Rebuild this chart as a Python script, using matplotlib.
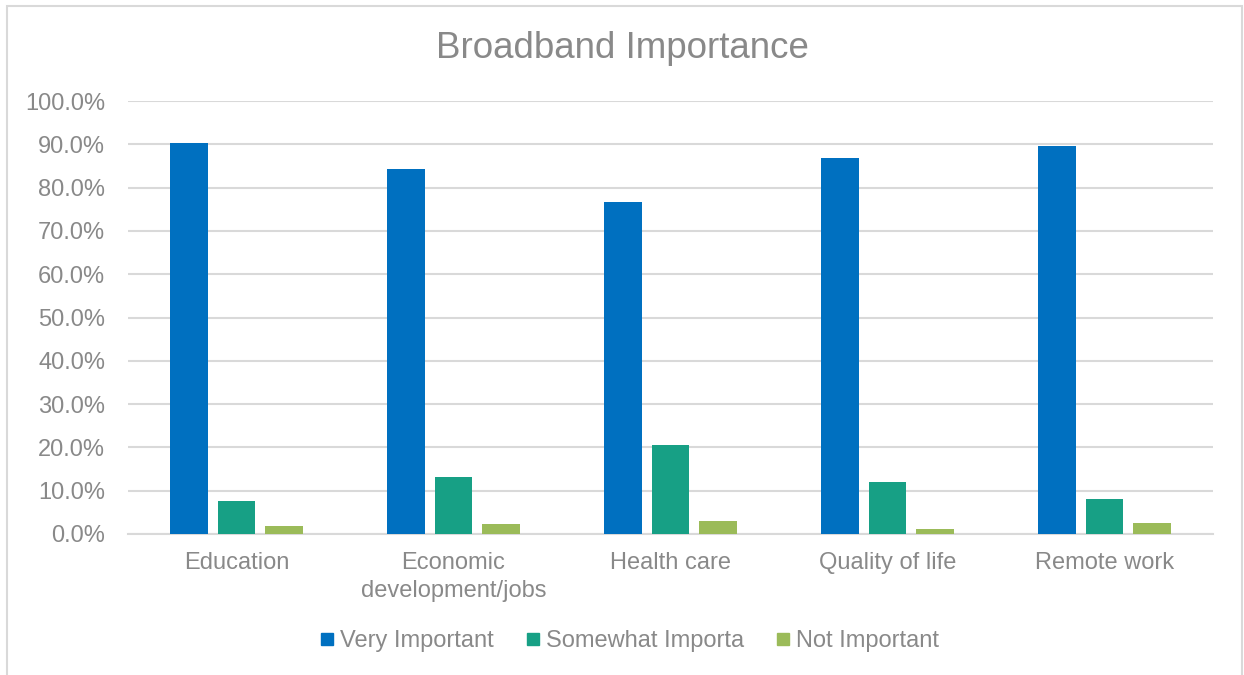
import matplotlib.pyplot as plt
import numpy as np
from matplotlib.lines import Line2D
from matplotlib.ticker import PercentFormatter

plt.rcParams['font.family'] = ['Liberation Sans', 'DejaVu Sans']

# data
categories = ["Education", "Economic\ndevelopment/jobs", "Health care", "Quality of life", "Remote work"]
very_important = [90.4, 84.3, 76.7, 86.8, 89.6]
somewhat_important = [7.6, 13.2, 20.6, 12.0, 8.0]
not_important = [1.8, 2.4, 3.0, 1.2, 2.5]
series_names = ["Very Important", "Somewhat Importa", "Not Important"]
colors = ["#0070C0", "#17A085", "#9BBB59"]

text_grey = "#898989"
grid_grey = "#D9D9D9"

fig = plt.figure(figsize=(12.44, 6.75), dpi=100)
ax = fig.add_axes([128/1244, 1 - 534/675, (1213-128)/1244, (534-101)/675])

x = np.arange(len(categories))
w = 0.175
step = 0.221
for i, (vals, name, c) in enumerate(zip([very_important, somewhat_important, not_important], series_names, colors)):
    ax.bar(x + (i - 1) * step, np.array(vals) / 100, width=w, color=c, label=name, zorder=3)

ax.set_xlim(-0.5, len(categories) - 0.5)
ax.set_ylim(0, 1.0)
ax.set_yticks(np.arange(0, 1.01, 0.1))
ax.yaxis.set_major_formatter(PercentFormatter(1.0, decimals=1))
ax.grid(axis='y', color=grid_grey, linewidth=1.5, zorder=0)
for s in ['top', 'right', 'left']:
    ax.spines[s].set_visible(False)
ax.spines['bottom'].set_color(grid_grey)
ax.spines['bottom'].set_linewidth(1.5)
ax.tick_params(axis='both', length=0, labelsize=17, labelcolor=text_grey)
ax.tick_params(axis='y', pad=16.5)
ax.tick_params(axis='x', pad=13)
ax.set_xticks(x)
ax.set_xticklabels(categories, linespacing=1.35)

fig.text(0.5, 1 - 48/675, "Broadband Importance", ha='center', va='center', fontsize=26.5, color=text_grey)

handles = [Line2D([], [], marker='s', linestyle='none', markersize=9, color=c) for c in colors]
fig.legend(handles, series_names, loc='center', bbox_to_anchor=(629/1244, 1 - 641/675), ncol=3,
           frameon=False, fontsize=17, labelcolor=text_grey, handletextpad=0.2, columnspacing=1.3,
           handlelength=0.7)

# outer chart border
border = plt.Rectangle((6.5/1244, -0.1), (1242-6.5)/1244, 1.1 - 5.5/675, transform=fig.transFigure,
                       fill=False, edgecolor="#D9D9D9", linewidth=1.5)
fig.patches.append(border)

plt.savefig("out.png", dpi=100)
